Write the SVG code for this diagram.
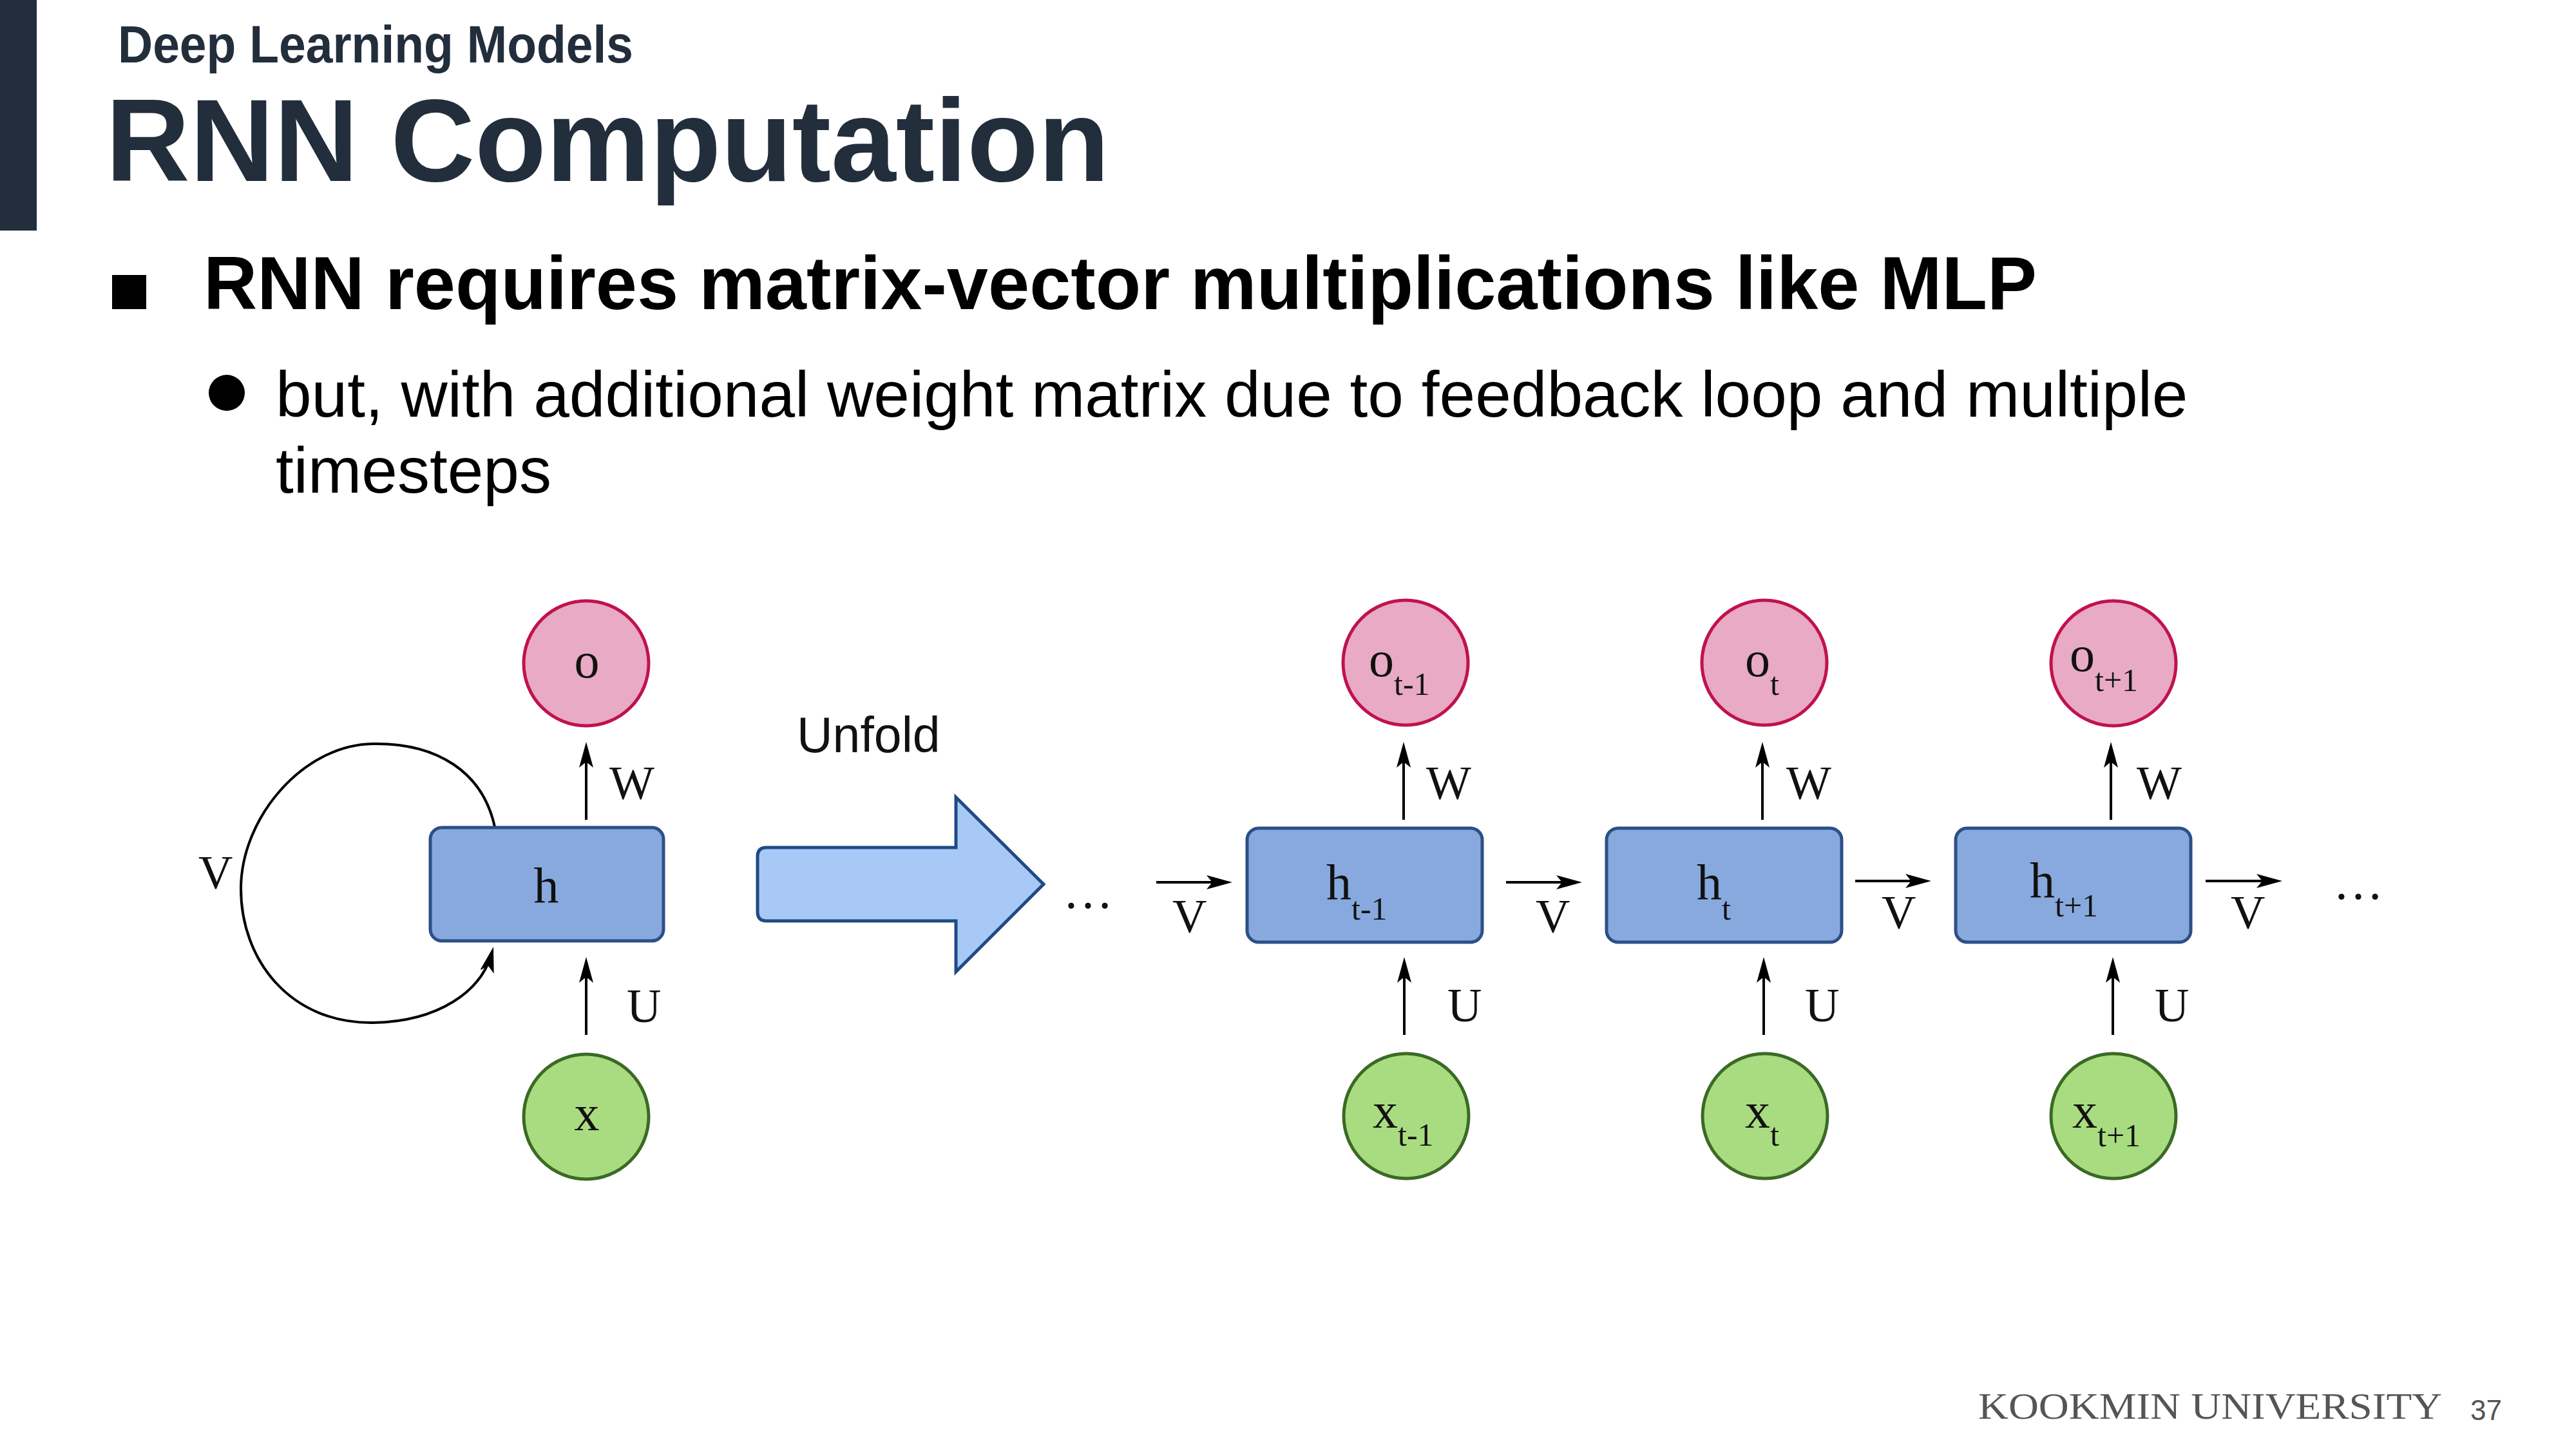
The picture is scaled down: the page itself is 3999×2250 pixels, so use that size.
<svg xmlns="http://www.w3.org/2000/svg" width="3999" height="2250" viewBox="0 0 3999 2250">
<style>
.title{font-family:"Liberation Sans",Arial,sans-serif;font-weight:bold;fill:#222e3b}
.body{font-family:"Liberation Sans",Arial,sans-serif;fill:#000}
.lbl{font-family:"Liberation Serif","Times New Roman",serif;font-size:78px;fill:#111}
.sub{font-size:50px}
.wl{font-family:"Liberation Serif","Times New Roman",serif;font-size:74px;fill:#111}
.out{fill:#e8aac4;stroke:#c0124e;stroke-width:5}
.inp{fill:#a9dc80;stroke:#3b6a25;stroke-width:5}
.hid{fill:#87a9dd;stroke:#2c4f86;stroke-width:5}
.con{stroke:#000;stroke-width:4;fill:none}
</style>
<defs>
<marker id="ah" viewBox="0 0 40 22" markerWidth="40" markerHeight="22" markerUnits="userSpaceOnUse" refX="32" refY="11" orient="auto">
<path d="M0,0 L40,11 L0,22 L9,11 Z" fill="#000"/>
</marker>
</defs>
<rect x="0" y="0" width="57" height="358" fill="#222e3b"/>
<text class="title" x="183" y="97" font-size="81" textLength="800" lengthAdjust="spacingAndGlyphs">Deep Learning Models</text>
<text class="title" x="164" y="281" font-size="181">RNN Computation</text>
<rect x="174" y="427" width="53" height="53" fill="#000"/>
<text class="body" x="316" y="480" font-size="116" font-weight="bold" textLength="2846" lengthAdjust="spacingAndGlyphs">RNN requires matrix-vector multiplications like MLP</text>
<circle cx="352" cy="610" r="28" fill="#000"/>
<text class="body" x="428" y="647" font-size="100">but, with additional weight matrix due to feedback loop and multiple</text>
<text class="body" x="428" y="765" font-size="100">timesteps</text>

<g id="connectors">
<path class="con" d="M768 1284 C750 1200 680 1153 578 1155 C470 1157 374 1270 374 1380 C374 1490 450 1590 580 1588 C680 1586 748 1540 764 1478" marker-end="url(#ah)"/>
<line class="con" x1="910" y1="1273" x2="910" y2="1160" marker-end="url(#ah)"/>
<line class="con" x1="910" y1="1607" x2="910" y2="1494" marker-end="url(#ah)"/>
<line class="con" x1="2179" y1="1273" x2="2179" y2="1160" marker-end="url(#ah)"/>
<line class="con" x1="2180" y1="1607" x2="2180" y2="1494" marker-end="url(#ah)"/>
<line class="con" x1="2736" y1="1273" x2="2736" y2="1160" marker-end="url(#ah)"/>
<line class="con" x1="2738" y1="1607" x2="2738" y2="1494" marker-end="url(#ah)"/>
<line class="con" x1="3277" y1="1273" x2="3277" y2="1160" marker-end="url(#ah)"/>
<line class="con" x1="3280" y1="1607" x2="3280" y2="1494" marker-end="url(#ah)"/>
<line class="con" x1="1795" y1="1370" x2="1905" y2="1370" marker-end="url(#ah)"/>
<line class="con" x1="2338" y1="1370" x2="2448" y2="1370" marker-end="url(#ah)"/>
<line class="con" x1="2880" y1="1368" x2="2990" y2="1368" marker-end="url(#ah)"/>
<line class="con" x1="3424" y1="1368" x2="3535" y2="1368" marker-end="url(#ah)"/>
<text class="wl" x="308" y="1380">V</text>
<text class="wl" x="946" y="1241">W</text>
<text class="wl" x="973" y="1587">U</text>
<text class="wl" x="2214" y="1241">W</text>
<text class="wl" x="2247" y="1586">U</text>
<text class="wl" x="2773" y="1241">W</text>
<text class="wl" x="2802" y="1586">U</text>
<text class="wl" x="3317" y="1241">W</text>
<text class="wl" x="3345" y="1586">U</text>
<text class="wl" x="1820" y="1448">V</text>
<text class="wl" x="2384" y="1448">V</text>
<text class="wl" x="2921" y="1442">V</text>
<text class="wl" x="3463" y="1442">V</text>
<text class="lbl" x="1650" y="1410">…</text>
<text class="lbl" x="3622" y="1396">…</text>
</g>

<g id="unfold">
<path d="M1190 1316 L1484 1316 L1484 1238 L1620 1373 L1484 1509 L1484 1430 L1190 1430 Q1176 1430 1176 1416 L1176 1330 Q1176 1316 1190 1316 Z" fill="#a8c8f5" stroke="#1f4a85" stroke-width="5" stroke-linejoin="miter"/>
<text x="1237" y="1168" font-family="Liberation Sans,Arial,sans-serif" font-size="77" fill="#111">Unfold</text>
</g>

<g id="fold-o"><circle class="out" cx="910" cy="1030" r="97"/><text class="lbl" x="911" y="1052" text-anchor="middle" font-size="82">o</text></g>
<g id="fold-h"><rect class="hid" x="668" y="1285" width="362" height="176" rx="18"/><text class="lbl" x="848" y="1402" text-anchor="middle" font-size="80">h</text></g>
<g id="fold-x"><circle class="inp" cx="910" cy="1734" r="97"/><text class="lbl" x="911" y="1755" text-anchor="middle" font-size="82">x</text></g>

<g id="o-tm1"><circle class="out" cx="2182" cy="1029" r="97"/><text class="lbl" x="2125" y="1050">o<tspan class="sub" dy="29">t-1</tspan></text></g>
<g id="h-tm1"><rect class="hid" x="1936" y="1286" width="365" height="177" rx="18"/><text class="lbl" x="2059" y="1397">h<tspan class="sub" dy="31">t-1</tspan></text></g>
<g id="x-tm1"><circle class="inp" cx="2183" cy="1733" r="97"/><text class="lbl" x="2131" y="1751">x<tspan class="sub" dy="28">t-1</tspan></text></g>

<g id="o-t"><circle class="out" cx="2739" cy="1029" r="97"/><text class="lbl" x="2709" y="1050">o<tspan class="sub" dy="29">t</tspan></text></g>
<g id="h-t"><rect class="hid" x="2494" y="1286" width="365" height="177" rx="18"/><text class="lbl" x="2634" y="1397">h<tspan class="sub" dy="31">t</tspan></text></g>
<g id="x-t"><circle class="inp" cx="2740" cy="1733" r="97"/><text class="lbl" x="2709" y="1751">x<tspan class="sub" dy="28">t</tspan></text></g>

<g id="o-tp1"><circle class="out" cx="3281" cy="1030" r="97"/><text class="lbl" x="3213" y="1042">o<tspan class="sub" dy="31">t+1</tspan></text></g>
<g id="h-tp1"><rect class="hid" x="3036" y="1286" width="365" height="177" rx="18"/><text class="lbl" x="3151" y="1394">h<tspan class="sub" dy="29">t+1</tspan></text></g>
<g id="x-tp1"><circle class="inp" cx="3281" cy="1733" r="97"/><text class="lbl" x="3217" y="1751">x<tspan class="sub" dy="29">t+1</tspan></text></g>

<text x="3071" y="2203" font-family="Liberation Serif,Times New Roman,serif" font-size="57" fill="#555" textLength="720" lengthAdjust="spacingAndGlyphs">KOOKMIN UNIVERSITY</text>
<text x="3835" y="2205" font-family="Liberation Sans,Arial,sans-serif" font-size="44" fill="#555">37</text>
</svg>
